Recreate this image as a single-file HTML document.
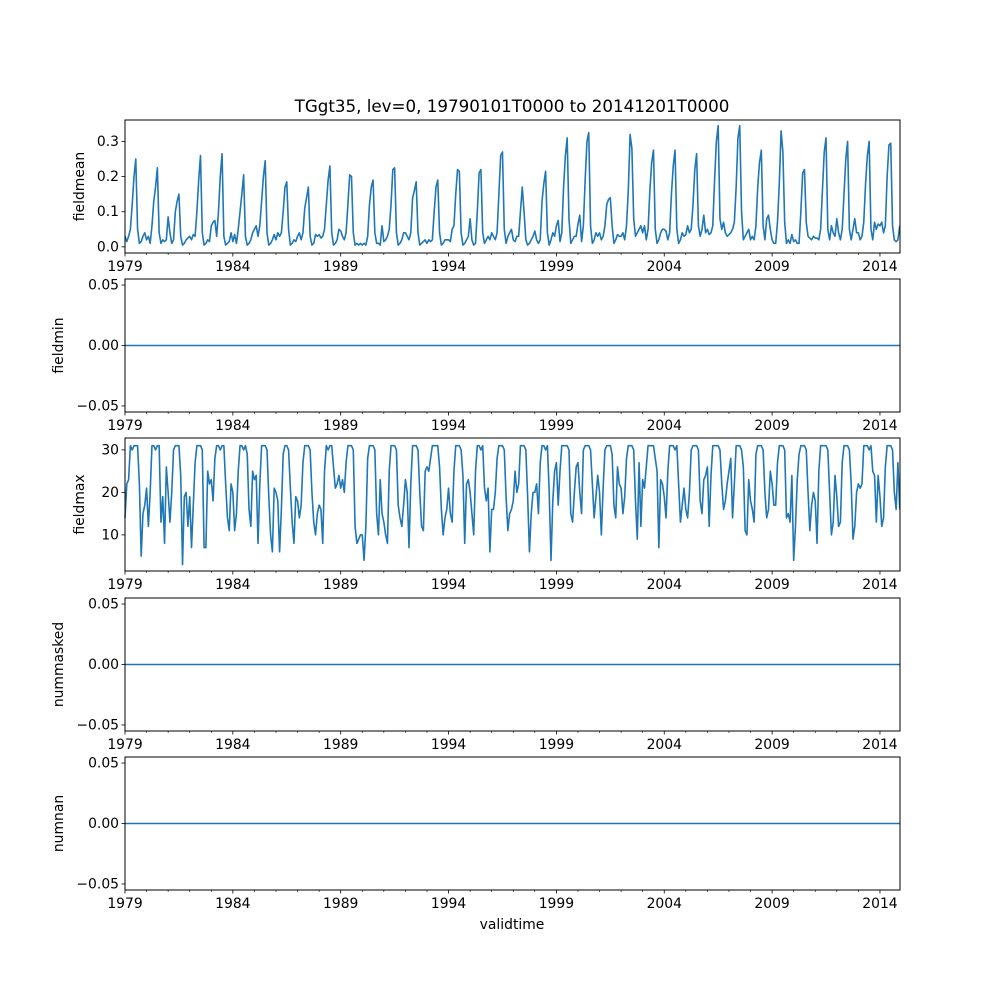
<!DOCTYPE html>
<html><head><meta charset="utf-8"><style>
body{margin:0;background:#fff}
svg{display:block;font-family:"DejaVu Sans","Liberation Sans",sans-serif}
</style></head><body>
<svg id="chart" width="1000" height="1000"></svg>
<script>
const years = [1979,1984,1989,1994,1999,2004,2009,2014];
const meanTicks = [0.0,0.1,0.2,0.3];
const maxTicks = [10,20,30];
const zeroTicks = [-0.05,0.00,0.05];
const fieldmean = [
.03,.015,.03,.05,.12,.20,.25,.05,.01,.015,.03,.04,
.02,.03,.01,.06,.13,.17,.225,.04,.01,.02,.015,.02,
.085,.04,.01,.02,.10,.13,.15,.03,.005,.01,.02,.025,
.03,.02,.035,.03,.10,.19,.26,.04,.005,.01,.02,.015,
.06,.07,.075,.03,.10,.20,.265,.03,.005,.01,.015,.04,
.015,.035,.01,.05,.10,.15,.205,.03,.005,.01,.02,.04,
.05,.06,.03,.06,.13,.20,.245,.04,.005,.01,.02,.035,
.02,.04,.03,.04,.10,.17,.185,.05,.005,.01,.02,.015,
.03,.04,.02,.04,.11,.14,.17,.03,.005,.01,.035,.03,
.035,.025,.03,.05,.12,.19,.23,.04,.005,.01,.02,.05,
.045,.03,.02,.04,.12,.205,.20,.04,.005,.01,.005,.01,
.005,.01,.005,.03,.12,.17,.19,.04,.01,.01,.005,.06,
.015,.02,.03,.05,.12,.22,.225,.04,.005,.01,.02,.04,
.04,.03,.02,.04,.14,.16,.185,.04,.005,.01,.015,.02,
.01,.02,.015,.02,.10,.17,.19,.04,.005,.01,.02,.02,
.02,.015,.05,.06,.15,.22,.215,.04,.005,.01,.02,.03,
.08,.02,.005,.01,.10,.21,.22,.04,.01,.02,.03,.02,
.04,.03,.02,.04,.15,.26,.27,.05,.01,.03,.04,.05,
.02,.015,.03,.03,.10,.17,.10,.02,.005,.01,.02,.03,
.045,.02,.01,.02,.13,.18,.215,.04,.005,.02,.04,.03,
.06,.075,.015,.04,.17,.26,.31,.08,.01,.02,.03,.03,
.065,.09,.015,.06,.19,.30,.325,.06,.01,.02,.04,.03,
.04,.02,.03,.06,.12,.135,.14,.06,.01,.02,.035,.03,
.03,.04,.02,.06,.16,.32,.28,.08,.03,.04,.05,.06,
.04,.06,.02,.05,.16,.24,.275,.05,.01,.02,.04,.05,
.05,.045,.02,.04,.15,.23,.275,.05,.01,.02,.04,.03,
.035,.06,.04,.05,.12,.22,.265,.06,.03,.05,.09,.04,
.05,.035,.04,.06,.19,.30,.345,.08,.05,.07,.04,.03,
.035,.04,.05,.07,.17,.31,.345,.10,.02,.03,.04,.05,
.02,.03,.02,.06,.17,.24,.275,.06,.02,.08,.09,.05,
.02,.01,.01,.07,.18,.33,.27,.07,.01,.02,.01,.035,
.015,.02,.01,.01,.10,.21,.22,.07,.03,.025,.02,.03,
.025,.025,.02,.05,.16,.27,.31,.05,.02,.06,.04,.03,
.08,.04,.02,.05,.15,.25,.30,.05,.02,.05,.08,.04,
.04,.02,.03,.07,.18,.26,.30,.05,.02,.07,.05,.065,
.06,.07,.04,.06,.20,.29,.295,.06,.02,.015,.02,.06];
const fieldmax = [
14,22,23,31,30,31,31,31,22,5,15,17,
21,12,20,31,31,30,31,31,13,19,8,26,
20,13,20,30,31,31,31,24,3,19,20,12,
19,7,17,27,31,31,31,30,7,7,25,22,
23,18,28,31,31,30,31,31,22,14,11,22,
20,11,15,25,31,31,30,31,29,16,12,25,
23,24,8,22,31,31,31,30,19,10,6,21,
20,18,6,16,29,31,31,30,21,13,8,19,
18,14,17,27,31,31,31,30,20,13,10,15,
17,16,8,25,31,30,31,31,26,21,22,24,
21,23,20,27,31,31,31,30,12,8,9,10,
10,4,12,28,31,31,31,30,15,10,23,15,
13,10,8,25,31,31,31,30,17,14,12,17,
23,20,7,22,31,31,31,30,20,12,11,25,
26,25,28,31,31,31,31,26,16,10,14,16,
21,15,13,25,31,31,31,30,24,8,22,23,
20,15,10,25,31,31,30,31,21,18,21,6,
16,16,20,28,31,31,31,30,19,11,15,16,
18,25,20,22,31,31,31,30,19,6,15,20,
20,22,15,27,31,31,30,31,20,4,18,25,
27,17,25,31,31,31,31,30,15,13,20,26,
27,20,15,30,31,31,31,30,22,14,19,24,
20,10,21,30,31,31,31,29,17,14,26,22,
21,15,19,28,31,31,31,30,18,9,27,12,
23,21,26,31,31,31,31,28,25,7,23,22,
19,14,25,31,31,31,30,31,22,13,17,21,
16,14,20,30,31,31,31,30,18,15,23,24,
26,12,24,31,31,31,31,30,22,16,18,22,
25,28,14,22,31,31,31,30,26,11,10,23,
18,16,13,29,31,31,31,30,20,14,16,25,
22,17,17,27,31,31,31,30,14,15,13,24,
4,12,23,29,31,31,31,30,20,11,17,20,
18,8,25,31,31,31,31,30,20,10,13,24,
19,12,13,27,31,31,31,30,22,9,12,20,
22,21,22,31,31,31,30,31,25,24,13,24,
19,12,14,26,31,31,31,30,20,16,27,16];

const NS='http://www.w3.org/2000/svg';
const svg=document.getElementById('chart');
function el(tag,attrs,parent){const e=document.createElementNS(NS,tag);for(const k in attrs)e.setAttribute(k,attrs[k]);(parent||svg).appendChild(e);return e;}
const X0=125,X1=900;
function xScale(t){return X0+(t-1979)*21.57;}
function fmt(v,d){return v.toFixed(d).replace('-','\u2212');}

const panels=[
 {name:'fieldmean',top:120,bot:253,ymin:-0.0175,ymax:0.361,ticks:meanTicks,dec:1,data:fieldmean},
 {name:'fieldmin',top:279,bot:412,ymin:-0.055,ymax:0.055,ticks:zeroTicks,dec:2,data:null},
 {name:'fieldmax',top:438,bot:571,ymin:1.5,ymax:32.8,ticks:maxTicks,dec:0,data:fieldmax},
 {name:'nummasked',top:598,bot:731,ymin:-0.055,ymax:0.055,ticks:zeroTicks,dec:2,data:null},
 {name:'numnan',top:757,bot:890,ymin:-0.055,ymax:0.055,ticks:zeroTicks,dec:2,data:null}
];

const title=el('text',{x:512,y:112,'text-anchor':'middle','font-size':16.7});
title.textContent='TGgt35, lev=0, 19790101T0000 to 20141201T0000';



panels.forEach(p=>{
  const g=el('g',{});
  
  
  const yScale=v=>p.bot-(v-p.ymin)/(p.ymax-p.ymin)*(p.bot-p.top);
  let pts=[];
  const n=432;
  for(let i=0;i<n;i++){
    const v=p.data?p.data[i]:0;
    pts.push(xScale(1979+i/12).toFixed(2)+','+yScale(v).toFixed(2));
  }
  const line=el('polyline',{points:pts.join(' '),fill:'none',stroke:'#1f77b4','stroke-width':1.6,'stroke-linejoin':'round'},g);
  
  
  const fr=el('rect',{x:X0,y:p.top,width:X1-X0,height:p.bot-p.top,fill:'none',stroke:'#000','stroke-width':1},g);
  
  
  p.ticks.forEach(t=>{
    const y=yScale(t);
    el('line',{x1:X0-3.5,x2:X0,y1:y,y2:y,stroke:'#000','stroke-width':0.8},g);
    const tx=el('text',{x:X0-6,y:y+4.5,'text-anchor':'end','font-size':13.9},g);
    tx.textContent=fmt(t,p.dec);
    
    
  });
  for(let yr=1979;yr<=2014;yr++){
    const x=xScale(yr);
    const major=years.includes(yr);
    el('line',{x1:x,x2:x,y1:p.bot,y2:p.bot+(major?3.5:2),stroke:'#000','stroke-width':major?0.8:0.6},g);
  }
  years.forEach(yr=>{
    const tx=el('text',{x:xScale(yr),y:p.bot+18,'text-anchor':'middle','font-size':13.9},g);
    tx.textContent=String(yr);
    
    
  });
  const cy=(p.top+p.bot)/2;
  const yl=el('text',{x:0,y:0,'text-anchor':'middle','font-size':13.9,transform:`translate(${p.dec===2?63:84},${cy}) rotate(-90)`},g);
  yl.textContent=p.name;
  
  
});
const xl=el('text',{x:512,y:929,'text-anchor':'middle','font-size':13.9});
xl.textContent='validtime';


</script>
</body></html>
